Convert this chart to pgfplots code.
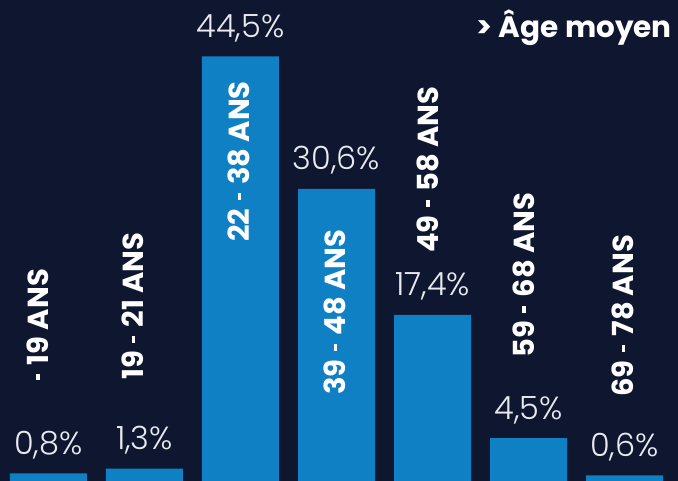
\documentclass[border=0pt]{standalone}
\usepackage{fontspec}
\setmainfont{Poppins}
\newfontfamily\lightfont{Poppins Light}
\usepackage{pgfplots}
\pgfplotsset{compat=1.18}

\definecolor{bg}{HTML}{0F1730}
\definecolor{barblue}{HTML}{1080C5}
\definecolor{lbl}{HTML}{E8EAF0}

% short hyphen, Poppins' own is too long
\newcommand{\hy}{\kern0.08em\rule[0.29em]{0.24em}{0.12em}\kern0.08em}

\tikzset{rot/.style={rotate=90, anchor=west, inner sep=0pt, text=white,
    font=\bfseries\fontsize{29}{31}\selectfont}}

\begin{document}
\begin{tikzpicture}
\begin{axis}[
    scale only axis,
    width=678pt, height=481pt,
    xmin=-0.505, xmax=6.557,
    ymin=0, ymax=50.4,
    axis background/.style={fill=bg},
    axis line style={draw=none},
    ticks=none,
    clip=false,
    ybar, bar width=0.802, bar shift=0pt,
    /pgf/number format/assume math mode=true,
    nodes near coords={\pgfmathprintnumber[use comma,fixed,fixed zerofill,precision=1]{\pgfplotspointmeta}\%},
    nodes near coords style={font=\lightfont\fontsize{32}{34}\selectfont,
        text=lbl, anchor=base, yshift=19pt, inner sep=0pt},
]

% share by age group
\addplot[fill=barblue, draw=none] coordinates {
    (0,0.8) (1,1.3) (2,44.5) (3,30.6) (4,17.4) (5,4.5) (6,0.6)
};

% age-group labels
\node[rot] at (axis cs:-0.115,10.27) {\hy{} 19 ANS};
\node[rot] at (axis cs:0.880,10.59) {19 \hy{} 21 ANS};
\node[rot] at (axis cs:1.984,25.05) {22 \hy{} 38 ANS};
\node[rot] at (axis cs:2.984,9.01) {39 \hy{} 48 ANS};
\node[rot] at (axis cs:3.948,23.90) {49 \hy{} 58 ANS};
\node[rot] at (axis cs:4.948,12.89) {59 \hy{} 68 ANS};
\node[rot] at (axis cs:5.984,8.81) {69 \hy{} 78 ANS};

\node[anchor=base east, inner sep=0pt, text=white,
    font=\bfseries\fontsize{29.5}{31}\selectfont] at (axis cs:6.495,46.44) {> Âge moyen};

\end{axis}
\end{tikzpicture}
\end{document}
